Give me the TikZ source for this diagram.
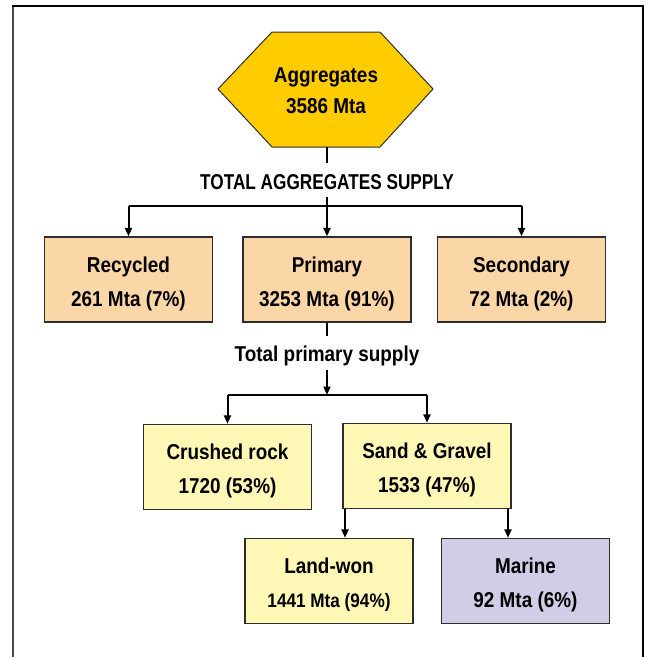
\documentclass[tikz,border=0pt]{standalone}
\usepackage{fontspec}
\setmainfont{Liberation Sans}[FakeStretch=0.88]
\newfontfamily\capsfont{Liberation Sans}[FakeStretch=0.8]
\usetikzlibrary{arrows.meta, calc, positioning}
\definecolor{hexgold}{RGB}{255,204,0}
\definecolor{boxpeach}{RGB}{251,214,166}
\definecolor{boxyellow}{RGB}{255,247,182}
\definecolor{boxlilac}{RGB}{209,205,230}
\definecolor{edgegrey}{RGB}{45,45,45}

\begin{document}
\begin{tikzpicture}[x=1pt, y=-1pt,
    box/.style={draw=edgegrey, line width=1.3pt, minimum width=168pt, minimum height=85pt,
        align=center, inner sep=0pt, text height=57.5pt, font=\bfseries\fontsize{21.5}{34}\selectfont},
    lbl/.style={inner sep=0pt, font=\bfseries\fontsize{21.5}{24}\selectfont},
    link/.style={line width=2.2pt},
    bar/.style={line width=2.8pt},
    arr/.style={line width=2pt, -{Triangle[length=8.5pt, width=7pt]}}]
    \useasboundingbox (0,0) rectangle (646,657);

    % Frame (open at the bottom)
    \draw[line width=2pt, black!70] (13,657) -- (13,6);
    \draw[line width=1.2pt] (12,6) -- (643,6) -- (643,657);

    % Total aggregates
    \filldraw[fill=hexgold, draw=edgegrey, line width=1pt]
        (218,89) -- (272,32) -- (380,32) -- (433,89) -- (380,147) -- (272,147) -- cycle;
    \node[lbl, align=center, font=\bfseries\fontsize{21.5}{31}\selectfont] (agg) at (326,90.5) {Aggregates\\3586 Mta};
    \coordinate (hexbot) at (327,147);
    \coordinate (aggstem) at (327,163);
    \node[lbl, font=\capsfont\bfseries\fontsize{21.5}{24}\selectfont] (tas) at (327,182.5) {TOTAL AGGREGATES SUPPLY};

    % First split
    \node[box, fill=boxpeach] (recycled) at (128.5,279.5) {Recycled\\261 Mta (7\%)};
    \node[box, fill=boxpeach] (primary) at (327,279.5) {Primary\\3253 Mta (91\%)};
    \node[box, fill=boxpeach] (secondary) at (521.5,279.5) {Secondary\\72 Mta (2\%)};

    \coordinate (tasdrop) at (327,197);
    \coordinate (barL) at (128.5,206);
    \coordinate (barR) at (521.5,206);
    \draw[link] (hexbot) -- (aggstem);
    \draw[bar] (barL) -- (barR);
    \draw[arr] (barL) -- (recycled.north);
    \draw[arr] (tasdrop) -- (primary.north);
    \draw[arr] (barR) -- (secondary.north);

    % Primary supply
    \coordinate (primstem) at (327,336);
    \node[lbl] (tps) at (327,355.5) {Total primary supply};
    \coordinate (tpsdrop) at (327,370);
    \coordinate (midbar) at (327,395);
    \coordinate (bar2L) at (227.5,395);
    \coordinate (bar2R) at (427,395);
    \draw[link] (primary.south) -- (primstem);
    \draw[arr] (tpsdrop) -- (midbar);
    \draw[bar] (bar2L) -- (bar2R);

    \node[box, fill=boxyellow] (crushed) at (227.5,467) {Crushed rock\\1720 (53\%)};
    \node[box, fill=boxyellow] (sand) at (427,466) {Sand \& Gravel\\1533 (47\%)};
    \draw[arr] (bar2L) -- (crushed.north);
    \draw[arr] (bar2R) -- (sand.north);

    % Sand and gravel split
    \node[box, fill=boxyellow] (landwon) at (329,581) {Land-won\\{\fontsize{19.5}{34}\selectfont 1441 Mta (94\%)}};
    \node[box, fill=boxlilac] (marine) at (525.5,581) {Marine\\92 Mta (6\%)};
    \coordinate (landdrop) at (345,0);
    \coordinate (marinedrop) at (508,0);
    \draw[arr] (sand.south -| landdrop) -- (landwon.north -| landdrop);
    \draw[arr] (sand.south -| marinedrop) -- (marine.north -| marinedrop);
\end{tikzpicture}
\end{document}
